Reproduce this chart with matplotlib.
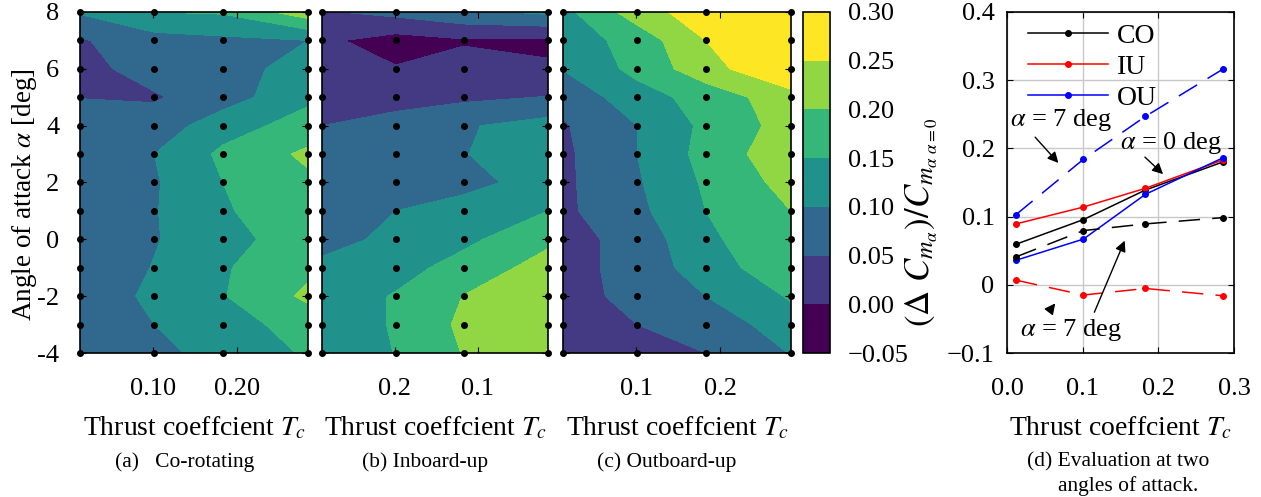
import numpy as np
import matplotlib
matplotlib.use('Agg')
from matplotlib import pyplot as plt

plt.rcParams['font.family'] = ['Liberation Serif', 'DejaVu Serif']
plt.rcParams['mathtext.fontset'] = 'stix'

# thrust coefficient grid and angle of attack grid
tc = [0.012, 0.101, 0.183, 0.285]
alpha = [-4, -3, -2, -1, 0, 1, 2, 3, 4, 5, 6, 7, 8]
levels = [-0.05, 0.0, 0.05, 0.10, 0.15, 0.20, 0.25, 0.30]
cbar_labels = ['\u22120.05', '0.00', '0.05', '0.10', '0.15', '0.20', '0.25', '0.30']

# rows = alpha -4..8, columns = tc
co_map = [
    [0.048, 0.085, 0.120, 0.155],
    [0.060, 0.100, 0.130, 0.170],
    [0.070, 0.110, 0.147, 0.210],
    [0.070, 0.102, 0.145, 0.190],
    [0.070, 0.097, 0.130, 0.180],
    [0.070, 0.097, 0.145, 0.180],
    [0.070, 0.095, 0.150, 0.190],
    [0.070, 0.100, 0.160, 0.210],
    [0.070, 0.071, 0.129, 0.170],
    [0.049, 0.045, 0.0765, 0.140],
    [0.035, 0.069, 0.080, 0.120],
    [0.045, 0.080, 0.090, 0.100],
    [0.105, 0.150, 0.155, 0.230],
]
iu_map = [
    [0.098, 0.152, 0.202, 0.252],
    [0.115, 0.155, 0.210, 0.240],
    [0.120, 0.154, 0.201, 0.230],
    [0.110, 0.130, 0.170, 0.220],
    [0.085, 0.110, 0.138, 0.190],
    [0.070, 0.100, 0.120, 0.150],
    [0.070, 0.080, 0.085, 0.120],
    [0.065, 0.080, 0.098, 0.130],
    [0.050, 0.060, 0.095, 0.120],
    [0.035, 0.040, 0.040, 0.052],
    [0.030, 0.003, 0.020, 0.006],
    [0.009, -0.020, -0.005, -0.010],
    [0.045, 0.065, 0.090, 0.110],
]
ou_map = [
    [0.020, 0.035, 0.050, 0.102],
    [0.025, 0.050, 0.065, 0.130],
    [0.025, 0.069, 0.100, 0.155],
    [0.030, 0.070, 0.125, 0.185],
    [0.030, 0.070, 0.140, 0.190],
    [0.040, 0.088, 0.150, 0.200],
    [0.040, 0.095, 0.157, 0.218],
    [0.040, 0.100, 0.167, 0.235],
    [0.045, 0.100, 0.161, 0.220],
    [0.065, 0.128, 0.170, 0.230],
    [0.102, 0.165, 0.230, 0.300],
    [0.120, 0.171, 0.250, 0.290],
    [0.135, 0.225, 0.280, 0.300],
]

# panel (d): alpha = 0 deg (solid) and alpha = 7 deg (dashed)
co_0 = [0.0595, 0.0956, 0.139, 0.180]
co_7 = [0.041, 0.0795, 0.0893, 0.0985]
iu_0 = [0.0893, 0.114, 0.1415, 0.183]
iu_7 = [0.0068, -0.015, -0.0054, -0.016]
ou_0 = [0.036, 0.067, 0.1327, 0.186]
ou_7 = [0.103, 0.184, 0.247, 0.316]

W, H = 1261, 497
fig = plt.figure(figsize=(W / 100, H / 100), dpi=100)


def box(x0, x1, y0=12, y1=353):
    return [x0 / W, 1 - y1 / H, (x1 - x0) / W, (y1 - y0) / H]


band_colors = [plt.cm.viridis(i / 6) for i in range(7)]

panels = [(co_map, 80, 308, ['0.10', '0.20']),
          (iu_map, 322, 548, ['0.2', '0.1']),
          (ou_map, 563, 791, ['0.1', '0.2'])]

X, Y = np.meshgrid(tc, alpha)
for n, (m, x0, x1, tl) in enumerate(panels):
    ax = fig.add_axes(box(x0, x1))
    cs = ax.contourf(tc, alpha, np.array(m), levels=levels, colors=band_colors)
    ax.plot(X.ravel(), Y.ravel(), 'o', color='k', ms=4, clip_on=False, zorder=5)
    ax.set_xlim(tc[0], tc[-1])
    ax.set_ylim(-4, 8)
    ax.set_xticks([0.1, 0.2])
    ax.set_xticklabels(tl, fontsize=19)
    ax.set_yticks([-4, -2, 0, 2, 4, 6, 8])
    if n == 0:
        ax.set_yticklabels(['-4', '-2', '0', '2', '4', '6', '8'], fontsize=19)
    else:
        ax.set_yticklabels([])
    ax.tick_params(direction='in', top=True, right=True, length=4)
    ax.tick_params(axis='x', pad=18)
    ax.tick_params(axis='y', pad=15)
    ax.set_xlabel(r'Thrust coeffcient $T_c$', fontsize=20, labelpad=11)
    for s in ax.spines.values():
        s.set_linewidth(1.2)

fig.text(25 / W, 1 - 195 / H, r'Angle of attack $\alpha$ [deg]', rotation=90,
         ha='center', va='center', fontsize=19.5)

cax = fig.add_axes(box(803, 830))
cb = fig.colorbar(cs, cax=cax, ticks=levels)
cb.ax.set_yticklabels(cbar_labels, fontsize=19)
cb.ax.tick_params(length=0, pad=13)
cb.outline.set_linewidth(1.2)
fig.text(922 / W, 1 - 222 / H, r'$(\Delta\ C_{m_\alpha})/C_{m_{\alpha\ \alpha=0}}$',
         rotation=90, ha='center', va='center', fontsize=25)

# panel (d)
ax = fig.add_axes(box(1007, 1234))
dash = (0, (14, 8))
ax.plot(tc, co_0, '.-', color='k', lw=1.1, ms=8, label='CO')
ax.plot(tc, iu_0, '.-', color='r', lw=1.1, ms=8, label='IU')
ax.plot(tc, ou_0, '.-', color='b', lw=1.1, ms=8, label='OU')
ax.plot(tc, co_7, '.', ls=dash, color='k', lw=1.1, ms=8)
ax.plot(tc, iu_7, '.', ls=dash, color='r', lw=1.1, ms=8)
ax.plot(tc, ou_7, '.', ls=dash, color='b', lw=1.1, ms=8)
ax.set_xlim(0, 0.3)
ax.set_ylim(-0.1, 0.4)
ax.set_xticks([0.0, 0.1, 0.2, 0.3])
ax.set_xticklabels(['0.0', '0.1', '0.2', '0.3'], fontsize=19)
ax.set_yticks([-0.1, 0, 0.1, 0.2, 0.3, 0.4])
ax.set_yticklabels(['\u22120.1', '0', '0.1', '0.2', '0.3', '0.4'], fontsize=19)
ax.grid(True, color='#c8c8c8', lw=1)
ax.set_axisbelow(True)
ax.tick_params(direction='in', top=True, right=True, length=4)
ax.tick_params(axis='x', pad=18)
ax.tick_params(axis='y', pad=9)
ax.set_xlabel(r'Thrust coeffcient $T_c$', fontsize=20, labelpad=11)
for s in ax.spines.values():
    s.set_linewidth(1.2)
ax.legend(loc='upper left', bbox_to_anchor=(0.08, 0.975), frameon=False, fontsize=20,
          handlelength=2.9, borderaxespad=0, borderpad=0.1, labelspacing=0.2,
          handletextpad=0.3)

arr = dict(arrowstyle='-|>', color='k', lw=1, mutation_scale=16)
ax.text(0.004, 0.2414, r'$\alpha$ = 7 deg', fontsize=19, ha='left', va='center')
ax.annotate('', xy=(0.0704, 0.1756), xytext=(0.0347, 0.2195), arrowprops=arr)
ax.text(0.149, 0.208, r'$\alpha$ = 0 deg', fontsize=19, ha='left', va='center')
ax.annotate('', xy=(0.209, 0.1595), xytext=(0.1796, 0.190), arrowprops=arr)
ax.text(0.017, -0.066, r'$\alpha$ = 7 deg', fontsize=19, ha='left', va='center')
ax.annotate('', xy=(0.157, 0.0685), xytext=(0.114, -0.044), arrowprops=arr)
ax.annotate('', xy=(0.066, -0.024), xytext=(0.057, -0.037), arrowprops=arr)

fig.text(185 / W, 1 - 462 / H, '(a)   Co-rotating', ha='center', va='center', fontsize=15.5)
fig.text(425 / W, 1 - 462 / H, '(b) Inboard-up', ha='center', va='center', fontsize=15.5)
fig.text(667 / W, 1 - 462 / H, '(c) Outboard-up', ha='center', va='center', fontsize=15.5)
fig.text(1118 / W, 1 - 462 / H, '(d) Evaluation at two', ha='center', va='center', fontsize=15.5)
fig.text(1128 / W, 1 - 486 / H, 'angles of attack.', ha='center', va='center', fontsize=15.5)

fig.savefig('out.png', dpi=100)
